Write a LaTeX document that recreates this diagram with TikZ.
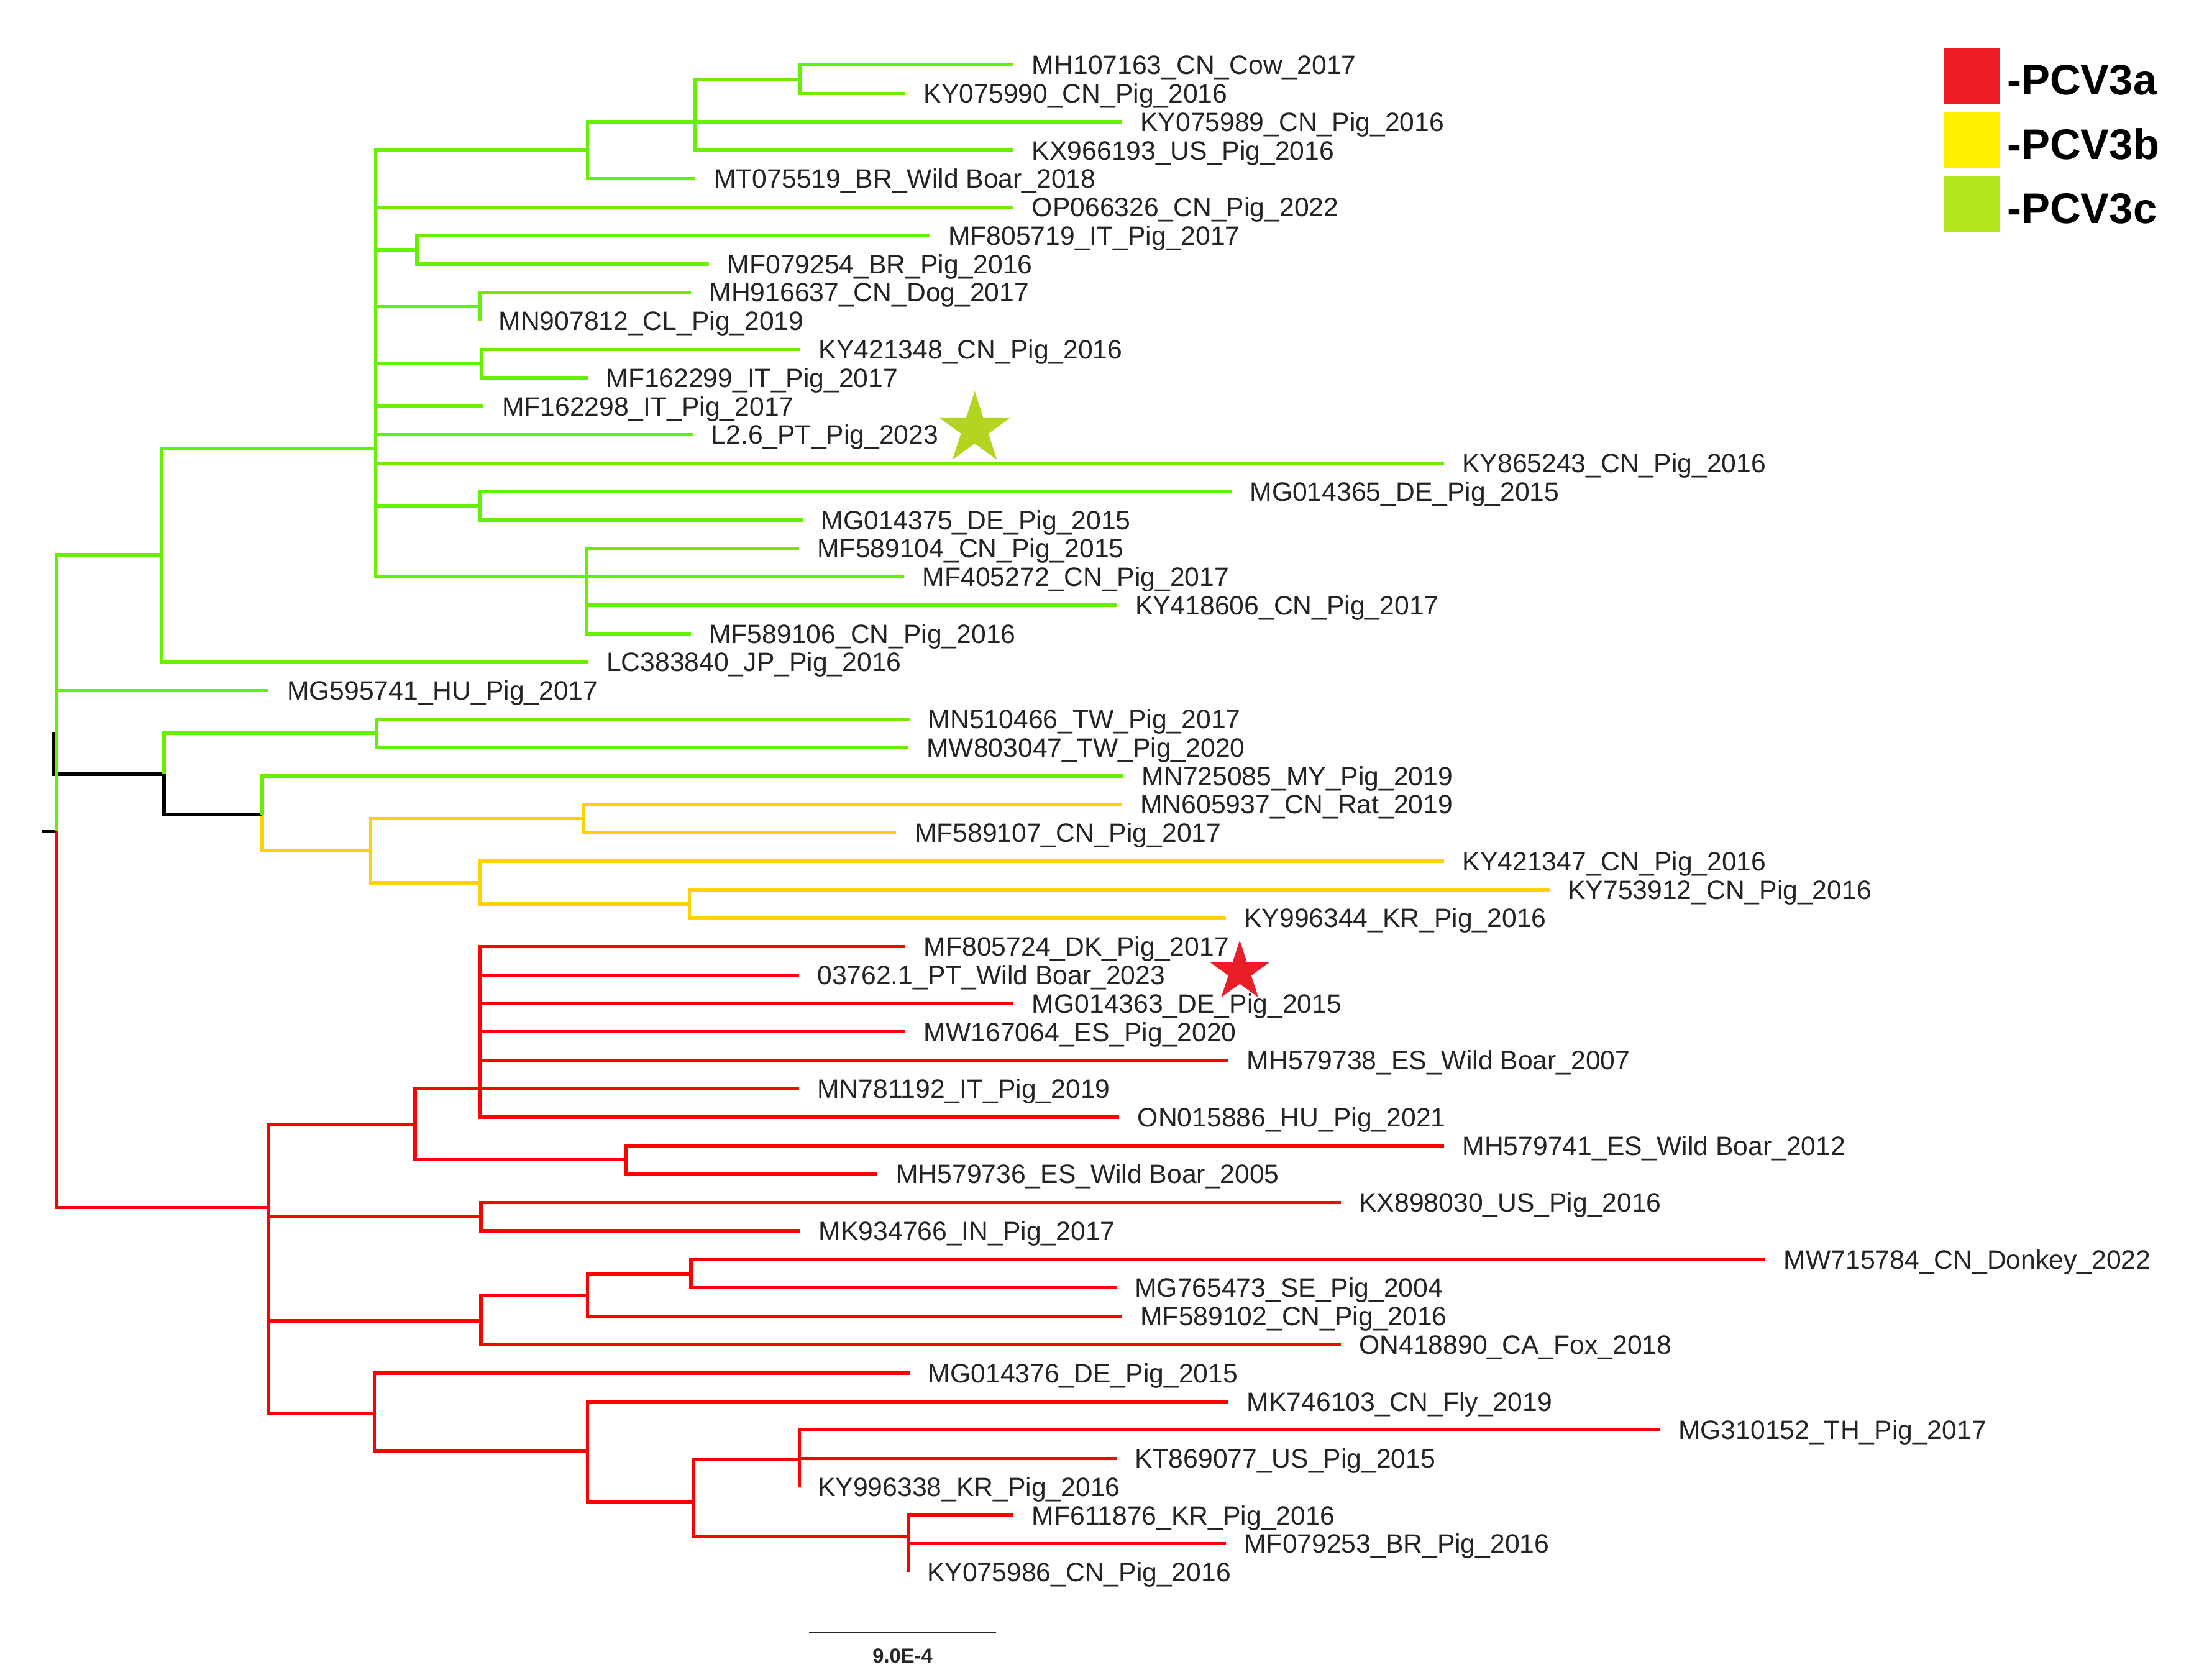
\documentclass[tikz,border=0pt]{standalone}
\usepackage{fontspec}
\setmainfont{Liberation Sans}
\usetikzlibrary{shapes.geometric}
\definecolor{tgreen}{RGB}{102,240,0}
\definecolor{tyellow}{RGB}{255,210,0}
\definecolor{tred}{RGB}{255,0,0}
\definecolor{kred}{RGB}{237,28,36}
\definecolor{kyellow}{RGB}{255,242,0}
\definecolor{kgreen}{RGB}{181,230,29}
\definecolor{sgreen}{RGB}{178,214,32}
\definecolor{sred}{RGB}{234,30,40}
\definecolor{labcol}{RGB}{35,35,35}
\newcommand\brn[3]{\draw[#1] (#2) |- (#3);}
\begin{document}
\begin{tikzpicture}[x=1pt,y=-1pt,
  br/.style={line width=2.4pt},
  gbr/.style={br,draw=tgreen},
  ybr/.style={br,draw=tyellow},
  rbr/.style={br,draw=tred},
  kbr/.style={br,draw=black},
  lab/.style={anchor=west,inner xsep=13pt,inner ysep=0pt,text height=13.5pt,text depth=0pt,font=\fontsize{18.9pt}{20pt}\selectfont,text=labcol},
  legkey/.style={minimum width=40pt,minimum height=40pt,inner sep=0pt,draw=none},
  legtxt/.style={anchor=base west,inner sep=0pt,font=\fontsize{30.5pt}{32pt}\selectfont\bfseries,text=black},
  hlstar/.style={star,star points=5,star point ratio=2.618,inner sep=0pt,draw=none}
]
\useasboundingbox (0,0) rectangle (1568,1198);
\fill[white] (0,0) rectangle (1568,1198);

% ---------- internal nodes ----------
\coordinate (root) at (40,593);
\coordinate (G1) at (115.5,395.7);
\coordinate (G2) at (267.8,320);
\coordinate (n3) at (419,107.14);
\coordinate (n2) at (495.7,86.86);
\coordinate (n1) at (570.7,56.44);
\coordinate (n4) at (297.3,178.1);
\coordinate (n5) at (342.4,218.7);
\coordinate (n6) at (343.4,259.2);
\coordinate (n7) at (342.4,360.6);
\coordinate (n8) at (418,411.34);
\coordinate (B1) at (117,552);
\coordinate (n9) at (268.8,522.9);
\coordinate (B2) at (187,581);
\coordinate (Y1) at (264.4,606.4);
\coordinate (Y2) at (416.3,583.7);
\coordinate (Y3) at (342.4,629.5);
\coordinate (Y4) at (491.5,644.56);
\coordinate (R1) at (191.5,861);
\coordinate (R2) at (296,802);
\coordinate (R3) at (342.4,776.38);
\coordinate (R4) at (446.5,827.08);
\coordinate (R5) at (343,867.6);
\coordinate (R6) at (343,942);
\coordinate (R7) at (419,924);
\coordinate (R8) at (492.6,908.2);
\coordinate (R9) at (267,1008);
\coordinate (R10) at (419,1035);
\coordinate (R11) at (494.5,1071);
\coordinate (R12) at (570,1041);
\coordinate (R13) at (648,1095.5);

% ---------- leaves ----------
\node[lab] (L1) at (722.7,46.3) {MH107163\_CN\_Cow\_2017};
\node[lab] (L2) at (645.6,66.58) {KY075990\_CN\_Pig\_2016};
\node[lab] (L3) at (800,86.86) {KY075989\_CN\_Pig\_2016};
\node[lab] (L4) at (722.7,107.14) {KX966193\_US\_Pig\_2016};
\node[lab] (L5) at (496,127.42) {MT075519\_BR\_Wild Boar\_2018};
\node[lab] (L6) at (722.7,147.7) {OP066326\_CN\_Pig\_2022};
\node[lab] (L7) at (663,167.98) {MF805719\_IT\_Pig\_2017};
\node[lab] (L8) at (505.5,188.26) {MF079254\_BR\_Pig\_2016};
\node[lab] (L9) at (492.6,208.54) {MH916637\_CN\_Dog\_2017};
\node[lab] (L10) at (342.4,228.82) {MN907812\_CL\_Pig\_2019};
\node[lab] (L11) at (570.7,249.1) {KY421348\_CN\_Pig\_2016};
\node[lab] (L12) at (419,269.38) {MF162299\_IT\_Pig\_2017};
\node[lab] (L13) at (344.8,289.66) {MF162298\_IT\_Pig\_2017};
\node[lab] (L14) at (494,309.94) {L2.6\_PT\_Pig\_2023};
\node[lab] (L15) at (1029.5,330.22) {KY865243\_CN\_Pig\_2016};
\node[lab] (L16) at (878,350.5) {MG014365\_DE\_Pig\_2015};
\node[lab] (L17) at (572.4,370.78) {MG014375\_DE\_Pig\_2015};
\node[lab] (L18) at (569.6,391.06) {MF589104\_CN\_Pig\_2015};
\node[lab] (L19) at (644.7,411.34) {MF405272\_CN\_Pig\_2017};
\node[lab] (L20) at (796.3,431.62) {KY418606\_CN\_Pig\_2017};
\node[lab] (L21) at (492.5,451.9) {MF589106\_CN\_Pig\_2016};
\node[lab] (L22) at (419.3,472.18) {LC383840\_JP\_Pig\_2016};
\node[lab] (L23) at (191.5,492.46) {MG595741\_HU\_Pig\_2017};
\node[lab] (L24) at (648.7,512.74) {MN510466\_TW\_Pig\_2017};
\node[lab] (L25) at (647.6,533.02) {MW803047\_TW\_Pig\_2020};
\node[lab] (L26) at (801,553.3) {MN725085\_MY\_Pig\_2019};
\node[lab] (L27) at (800,573.58) {MN605937\_CN\_Rat\_2019};
\node[lab] (L28) at (639,593.86) {MF589107\_CN\_Pig\_2017};
\node[lab] (L29) at (1029.7,614.14) {KY421347\_CN\_Pig\_2016};
\node[lab] (L30) at (1104.8,634.42) {KY753912\_CN\_Pig\_2016};
\node[lab] (L31) at (874,654.7) {KY996344\_KR\_Pig\_2016};
\node[lab] (L32) at (645.6,674.98) {MF805724\_DK\_Pig\_2017};
\node[lab] (L33) at (569.6,695.26) {03762.1\_PT\_Wild Boar\_2023};
\node[lab] (L34) at (722.7,715.54) {MG014363\_DE\_Pig\_2015};
\node[lab] (L35) at (645.6,735.82) {MW167064\_ES\_Pig\_2020};
\node[lab] (L36) at (876,756.1) {MH579738\_ES\_Wild Boar\_2007};
\node[lab] (L37) at (569.6,776.38) {MN781192\_IT\_Pig\_2019};
\node[lab] (L38) at (798,796.66) {ON015886\_HU\_Pig\_2021};
\node[lab] (L39) at (1029.6,816.94) {MH579741\_ES\_Wild Boar\_2012};
\node[lab] (L40) at (625.8,837.22) {MH579736\_ES\_Wild Boar\_2005};
\node[lab] (L41) at (956,857.5) {KX898030\_US\_Pig\_2016};
\node[lab] (L42) at (570.7,877.78) {MK934766\_IN\_Pig\_2017};
\node[lab] (L43) at (1258.8,898.06) {MW715784\_CN\_Donkey\_2022};
\node[lab] (L44) at (796,918.34) {MG765473\_SE\_Pig\_2004};
\node[lab] (L45) at (800,938.62) {MF589102\_CN\_Pig\_2016};
\node[lab] (L46) at (956,958.9) {ON418890\_CA\_Fox\_2018};
\node[lab] (L47) at (648.7,979.18) {MG014376\_DE\_Pig\_2015};
\node[lab] (L48) at (876,999.46) {MK746103\_CN\_Fly\_2019};
\node[lab] (L49) at (1183.6,1019.74) {MG310152\_TH\_Pig\_2017};
\node[lab] (L50) at (796,1040.02) {KT869077\_US\_Pig\_2015};
\node[lab] (L51) at (570,1060.3) {KY996338\_KR\_Pig\_2016};
\node[lab] (L52) at (722.7,1080.58) {MF611876\_KR\_Pig\_2016};
\node[lab] (L53) at (874,1100.86) {MF079253\_BR\_Pig\_2016};
\node[lab] (L54) at (648,1121.14) {KY075986\_CN\_Pig\_2016};

% ---------- red clade (PCV3a) ----------
\brn{rbr}{root}{R1}
\brn{rbr}{R1}{R2} \brn{rbr}{R1}{R5} \brn{rbr}{R1}{R6} \brn{rbr}{R1}{R9}
\brn{rbr}{R2}{R3} \brn{rbr}{R2}{R4}
\brn{rbr}{R3}{L32.west} \brn{rbr}{R3}{L33.west} \brn{rbr}{R3}{L34.west}
\brn{rbr}{R3}{L35.west} \brn{rbr}{R3}{L36.west} \brn{rbr}{R3}{L37.west}
\brn{rbr}{R3}{L38.west}
\brn{rbr}{R4}{L39.west} \brn{rbr}{R4}{L40.west}
\brn{rbr}{R5}{L41.west} \brn{rbr}{R5}{L42.west}
\brn{rbr}{R6}{R7} \brn{rbr}{R6}{L46.west}
\brn{rbr}{R7}{R8} \brn{rbr}{R7}{L45.west}
\brn{rbr}{R8}{L43.west} \brn{rbr}{R8}{L44.west}
\brn{rbr}{R9}{L47.west} \brn{rbr}{R9}{R10}
\brn{rbr}{R10}{L48.west} \brn{rbr}{R10}{R11}
\brn{rbr}{R11}{R12} \brn{rbr}{R11}{R13}
\brn{rbr}{R12}{L49.west} \brn{rbr}{R12}{L50.west} \brn{rbr}{R12}{L51.west}
\brn{rbr}{R13}{L52.west} \brn{rbr}{R13}{L53.west} \brn{rbr}{R13}{L54.west}

% ---------- yellow clade (PCV3b) ----------
\brn{ybr}{B2}{Y1}
\brn{ybr}{Y1}{Y2} \brn{ybr}{Y1}{Y3}
\brn{ybr}{Y2}{L27.west} \brn{ybr}{Y2}{L28.west}
\brn{ybr}{Y3}{L29.west} \brn{ybr}{Y3}{Y4}
\brn{ybr}{Y4}{L30.west} \brn{ybr}{Y4}{L31.west}

% ---------- black backbone ----------
\draw[kbr] (root) ++(-2,-71) |- (B1);
\brn{kbr}{B1}{B2}
\draw[kbr] (root) -- ++(-10,0);

% ---------- green clade (PCV3c) ----------
\brn{gbr}{root}{G1} \brn{gbr}{root}{L23.west}
\brn{gbr}{G1}{G2} \brn{gbr}{G1}{L22.west}
\brn{gbr}{G2}{n3} \brn{gbr}{G2}{L6.west} \brn{gbr}{G2}{n4} \brn{gbr}{G2}{n5}
\brn{gbr}{G2}{n6} \brn{gbr}{G2}{L13.west} \brn{gbr}{G2}{L14.west}
\brn{gbr}{G2}{L15.west} \brn{gbr}{G2}{n7} \brn{gbr}{G2}{n8}
\brn{gbr}{n3}{n2} \brn{gbr}{n3}{L5.west}
\brn{gbr}{n2}{n1} \brn{gbr}{n2}{L3.west} \brn{gbr}{n2}{L4.west}
\brn{gbr}{n1}{L1.west} \brn{gbr}{n1}{L2.west}
\brn{gbr}{n4}{L7.west} \brn{gbr}{n4}{L8.west}
\brn{gbr}{n5}{L9.west} \brn{gbr}{n5}{L10.west}
\brn{gbr}{n6}{L11.west} \brn{gbr}{n6}{L12.west}
\brn{gbr}{n7}{L16.west} \brn{gbr}{n7}{L17.west}
\brn{gbr}{n8}{L18.west} \brn{gbr}{n8}{L19.west} \brn{gbr}{n8}{L20.west}
\brn{gbr}{n8}{L21.west}
\brn{gbr}{B1}{n9}
\brn{gbr}{n9}{L24.west} \brn{gbr}{n9}{L25.west}
\brn{gbr}{B2}{L26.west}

% ---------- highlight stars ----------
\node[hlstar,fill=sgreen,minimum size=54pt] (S1) at (695,306) {};
\node[hlstar,fill=sred,minimum size=45pt] (S2) at (884,693) {};

% ---------- legend ----------
\node[legkey,fill=kred] (K1) at (1406,54.1) {};
\node[legkey,fill=kyellow] (K2) at (1406,100) {};
\node[legkey,fill=kgreen] (K3) at (1406,145.9) {};
\node[legtxt] (T1) at (1431,67.6) {-PCV3a};
\node[legtxt] (T2) at (1431,113.5) {-PCV3b};
\node[legtxt] (T3) at (1431,159.4) {-PCV3c};

% ---------- scale bar ----------
\coordinate (sbL) at (577,1164);
\coordinate (sbR) at (710,1164);
\draw[line width=1.4pt,draw=black!85] (sbL) -- (sbR);
\node[inner sep=0pt,font=\fontsize{14.5pt}{16pt}\selectfont\bfseries,text=black!85] (SB) at (643.6,1181) {9.0E-4};
\end{tikzpicture}
\end{document}
